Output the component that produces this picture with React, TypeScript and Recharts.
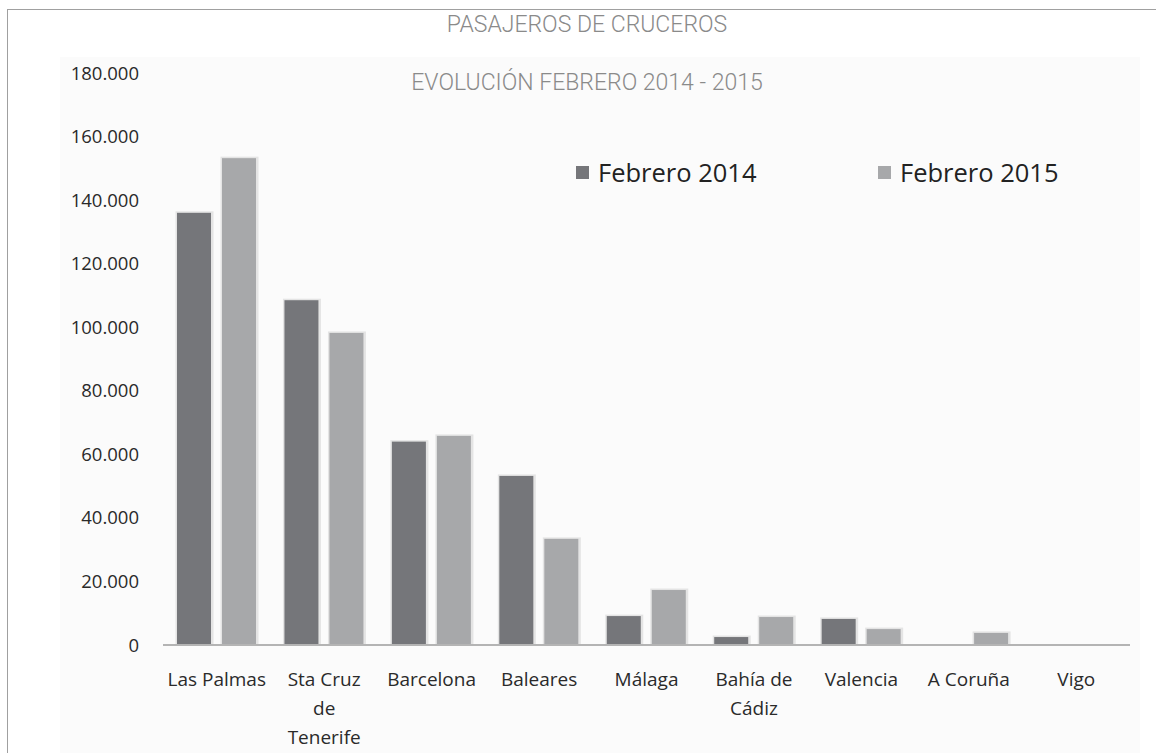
import React from 'react';
import { BarChart, Bar, XAxis, YAxis } from 'recharts';

const categories = [
  'Las Palmas',
  'Sta Cruz de Tenerife',
  'Barcelona',
  'Baleares',
  'Málaga',
  'Bahía de Cádiz',
  'Valencia',
  'A Coruña',
  'Vigo',
];
const tickLines: string[][] = [
  ['Las Palmas'],
  ['Sta Cruz', 'de', 'Tenerife'],
  ['Barcelona'],
  ['Baleares'],
  ['Málaga'],
  ['Bahía de', 'Cádiz'],
  ['Valencia'],
  ['A Coruña'],
  ['Vigo'],
];
const feb2014 = [136000, 108500, 64000, 53200, 9100, 2500, 8200, 0, 0];
const feb2015 = [153200, 98200, 65800, 33400, 17300, 8800, 5000, 3800, 0];
const yTicks = [0, 20000, 40000, 60000, 80000, 100000, 120000, 140000, 160000, 180000];
const seriesNames = ['Febrero 2014', 'Febrero 2015'];

const data = categories.map((name, i) => ({
  name,
  f2014: feb2014[i],
  f2015: feb2015[i],
}));

const DARK = '#75767a';
const LIGHT = '#a7a8aa';
const FONT = '"Open Sans", Lato, sans-serif';

const fmt = (v: number) => String(v).replace(/\B(?=(\d{3})+(?!\d))/g, '.');

const ShadowBar = (props: any) => {
  const { x, y, width, height, fill } = props;
  if (!height || height <= 0) return null;
  return (
    <g>
      <rect x={x - 1.5} y={y - 1.5} width={width + 4} height={height + 1.5} fill="#e4e4e4" />
      <rect x={x} y={y} width={width} height={height} fill={fill} />
    </g>
  );
};

const XTick = (props: any) => {
  const { x, y, index } = props;
  const lines = tickLines[index] || [];
  return (
    <g transform={`translate(${x},${y})`}>
      {lines.map((l, i) => (
        <text
          key={i}
          x={0}
          y={i * 29}
          dy={33}
          textAnchor="middle"
          fill="#2a2a2a"
          fontSize={19}
          fontFamily={FONT}
        >
          {l}
        </text>
      ))}
    </g>
  );
};

const legendItem = (label: string, color: string, left: number) => (
  <div
    key={label}
    style={{
      position: 'absolute',
      left,
      top: 155,
      height: 34,
      display: 'flex',
      alignItems: 'center',
      fontFamily: FONT,
      fontSize: 25.5,
      color: '#222',
      whiteSpace: 'nowrap',
    }}
  >
    <span style={{ width: 13, height: 13, background: color, marginRight: 9, display: 'inline-block' }} />
    {label}
  </div>
);

const titleStyle: React.CSSProperties = {
  position: 'absolute',
  left: 287,
  width: 600,
  textAlign: 'center',
  fontFamily: 'Roboto, sans-serif',
  fontWeight: 300,
  fontSize: 23,
  color: '#8a8a8a',
  lineHeight: '28px',
};

export default function App() {
  return (
    <div style={{ position: 'absolute', left: 0, top: 0, width: 1156, height: 753, background: '#fff', overflow: 'hidden' }}>
      <div style={{ position: 'absolute', left: 7, top: 9, width: 1160, height: 760, borderTop: '1px solid #a0a0a0', borderLeft: '1px solid #a0a0a0' }} />
      <div style={{ position: 'absolute', left: 60, top: 57, width: 1080, height: 700, background: '#fbfbfb' }} />
      <BarChart
        width={1156}
        height={753}
        data={data}
        margin={{ top: 73, right: 26, bottom: 0, left: 0 }}
        barCategoryGap={14}
        barGap={11}
        style={{ position: 'absolute', left: 0, top: 0 }}
      >
        <YAxis
          width={163}
          domain={[0, 180000]}
          ticks={yTicks}
          interval={0}
          axisLine={false}
          tickLine={false}
          tickSize={0}
          tickMargin={24}
          tickFormatter={fmt}
          tick={{ fill: '#2a2a2a', fontSize: 18.5, fontFamily: FONT }}
        />
        <XAxis
          dataKey="name"
          interval={0}
          tickLine={false}
          axisLine={{ stroke: '#b4b4b4', strokeWidth: 2 }}
          tick={<XTick />}
          height={108}
        />
        <Bar dataKey="f2014" name={seriesNames[0]} fill={DARK} shape={<ShadowBar />} isAnimationActive={false} />
        <Bar dataKey="f2015" name={seriesNames[1]} fill={LIGHT} shape={<ShadowBar />} isAnimationActive={false} />
      </BarChart>
      {legendItem(seriesNames[0], DARK, 576)}
      {legendItem(seriesNames[1], LIGHT, 878)}
      <div style={{ ...titleStyle, top: 11 }}>PASAJEROS DE CRUCEROS</div>
      <div style={{ ...titleStyle, top: 69 }}>EVOLUCIÓN FEBRERO 2014 - 2015</div>
    </div>
  );
}
